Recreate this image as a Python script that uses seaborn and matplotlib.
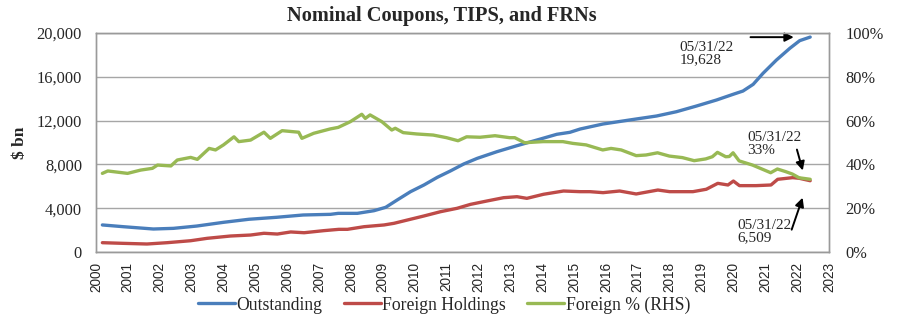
import matplotlib
matplotlib.use("Agg")
import matplotlib.pyplot as plt
import seaborn as sns
import pandas as pd
import numpy as np

# ---- data ----
out_years = [2000.2, 2000.86, 2001.8, 2002.43, 2003.16, 2004.0, 2004.8, 2005.67, 2006.5,
             2007.36, 2007.6, 2008.2, 2008.72, 2009.09, 2009.45, 2009.87, 2010.29, 2010.71,
             2011.12, 2011.54, 2011.96, 2012.58, 2013.21, 2013.84, 2014.46, 2014.87, 2015.19,
             2015.91, 2016.96, 2017.59, 2018.21, 2018.84, 2019.47, 2019.99, 2020.3, 2020.62,
             2020.93, 2021.35, 2021.77, 2022.08, 2022.41]
outstanding = [2470, 2310, 2100, 2160, 2370, 2710, 2990, 3170, 3380,
               3440, 3530, 3530, 3770, 4080, 4750, 5510, 6120, 6820,
               7400, 8040, 8550, 9160, 9710, 10230, 10750, 10930, 11230,
               11690, 12150, 12420, 12810, 13330, 13880, 14400, 14700, 15310,
               16320, 17530, 18600, 19300, 19628]

for_years = [2000.2, 2000.86, 2001.6, 2002.23, 2002.97, 2003.49, 2004.22, 2004.85, 2005.27,
             2005.69, 2006.11, 2006.53, 2007.15, 2007.62, 2007.89, 2008.41, 2009.04, 2009.35,
             2009.77, 2010.29, 2010.81, 2011.33, 2011.75, 2012.27, 2012.79, 2013.21, 2013.52,
             2014.04, 2014.67, 2015.19, 2015.5, 2015.91, 2016.43, 2016.95, 2017.63, 2018.0,
             2018.73, 2019.15, 2019.51, 2019.83, 2020.0, 2020.19, 2020.71, 2021.18, 2021.39,
             2021.86, 2022.07, 2022.41]
foreign = [850, 790, 730, 850, 1030, 1250, 1460, 1550, 1710,
           1640, 1830, 1760, 1950, 2070, 2070, 2310, 2470, 2620,
           2920, 3290, 3680, 3990, 4350, 4660, 4960, 5050, 4900,
           5270, 5570, 5510, 5510, 5420, 5570, 5300, 5660, 5510,
           5510, 5730, 6270, 6120, 6480, 6060, 6060, 6120, 6640,
           6790, 6730, 6509]

pct_years = [2000.2, 2000.37, 2000.99, 2001.4, 2001.77, 2001.93, 2002.35, 2002.55, 2002.97,
             2003.18, 2003.55, 2003.75, 2004.0, 2004.33, 2004.48, 2004.85, 2005.27, 2005.47,
             2005.84, 2006.36, 2006.46, 2006.83, 2007.35, 2007.6, 2007.98, 2008.34, 2008.45,
             2008.6, 2008.97, 2009.28, 2009.39, 2009.64, 2010.06, 2010.58, 2011.0, 2011.36,
             2011.63, 2012.05, 2012.52, 2012.98, 2013.14, 2013.45, 2014.03, 2014.65, 2014.96,
             2015.38, 2015.9, 2016.16, 2016.48, 2016.95, 2017.26, 2017.62, 2017.99, 2018.4,
             2018.77, 2019.13, 2019.34, 2019.5, 2019.76, 2019.87, 2019.99, 2020.18, 2020.6,
             2020.91, 2021.17, 2021.38, 2021.64, 2021.85, 2022.06, 2022.41]
foreign_pct = [35.9, 37.0, 35.9, 37.4, 38.2, 39.7, 39.3, 42.0, 43.2,
               42.3, 47.3, 46.6, 48.9, 52.6, 50.4, 51.1, 54.7, 51.9,
               55.4, 54.7, 51.9, 54.2, 56.2, 56.9, 59.5, 62.9, 61.0,
               62.6, 59.5, 55.7, 56.5, 54.5, 53.9, 53.4, 52.2, 50.8,
               52.6, 52.4, 53.1, 52.2, 52.2, 49.9, 50.4, 50.4, 49.6,
               48.9, 46.6, 47.3, 46.6, 44.0, 44.3, 45.3, 43.8, 43.1,
               41.7, 42.5, 43.5, 45.5, 43.5, 43.6, 45.3, 41.6, 39.7,
               37.8, 36.2, 37.9, 36.7, 35.6, 33.9, 33.2]

year_ticks = list(range(2000, 2024))
left_ticks = [0, 4000, 8000, 12000, 16000, 20000]
right_ticks = [0, 20, 40, 60, 80, 100]

title = "Nominal Coupons, TIPS, and FRNs"
labels = ["Outstanding", "Foreign Holdings", "Foreign % (RHS)"]
colors = ["#4A7EBB", "#BE4B48", "#98B954"]

# ---- style ----
sns.set_style("white")
plt.rcParams['font.family'] = ['Liberation Serif', 'DejaVu Serif']

df_out = pd.DataFrame({"year": out_years, "value": outstanding})
df_for = pd.DataFrame({"year": for_years, "value": foreign})
df_pct = pd.DataFrame({"year": pct_years, "value": foreign_pct})

fig = plt.figure(figsize=(9, 3.25), dpi=100)
ax = fig.add_axes([96 / 900, 1 - 252 / 325, (829 - 96) / 900, (252 - 33) / 325])
ax2 = ax.twinx()

sns.lineplot(data=df_out, x="year", y="value", ax=ax, color=colors[0], lw=2.4, label=labels[0], legend=False)
sns.lineplot(data=df_for, x="year", y="value", ax=ax, color=colors[1], lw=2.4, label=labels[1], legend=False)
sns.lineplot(data=df_pct, x="year", y="value", ax=ax2, color=colors[2], lw=2.4, label=labels[2], legend=False)

ax.set_xlim(2000, 2023)
ax.set_ylim(0, 20000)
ax2.set_ylim(0, 100)
ax.set_yticks(left_ticks)
ax.set_yticklabels([f"{v:,}" for v in left_ticks], fontsize=11.8)
ax2.set_yticks(right_ticks)
ax2.set_yticklabels([f"{v}%" for v in right_ticks], fontsize=11.8)
ax.set_xticks(year_ticks)
ax.set_xticklabels([str(y) for y in year_ticks], rotation=90, fontsize=9.8,
                   family=['Liberation Sans', 'DejaVu Sans'])
ax.tick_params(axis='y', length=0, pad=10)
ax.tick_params(axis='x', length=0, pad=7)
ax2.tick_params(axis='both', length=0, pad=12)
ax.set_xlabel("")
ax.set_ylabel("$ bn", fontsize=12.5, fontweight='bold', labelpad=6)
ax2.set_ylabel("")
ax.grid(axis='y', color='#A6A6A6', lw=1)
ax.grid(axis='x', visible=False)
ax2.grid(False)
for a in (ax, ax2):
    for s in a.spines.values():
        s.set_color('#9A9A9A')
        s.set_linewidth(1)

fig.text(442 / 900, 1 - 16 / 325, title, ha='center', va='center', fontsize=14.7, fontweight='bold')

# annotations
ax.annotate("", xy=(2021.98, 19620), xytext=(2020.45, 19620),
            arrowprops=dict(arrowstyle='-|>', color='black', lw=1.4, mutation_scale=13))
ax.text(2018.3, 19300, "05/31/22\n19,628", ha='left', va='top', fontsize=11, linespacing=1.0)

ax2.annotate("", xy=(2022.2, 36.0), xytext=(2021.97, 48.0),
             arrowprops=dict(arrowstyle='-|>', color='black', lw=1.4, mutation_scale=13))
ax.text(2020.43, 11050, "05/31/22\n33%", ha='left', va='top', fontsize=11, linespacing=1.0)

ax.annotate("", xy=(2022.2, 5200), xytext=(2021.8, 1800),
            arrowprops=dict(arrowstyle='-|>', color='black', lw=1.4, mutation_scale=13))
ax.text(2020.12, 3050, "05/31/22\n6,509", ha='left', va='top', fontsize=11, linespacing=1.0)

h1, l1 = ax.get_legend_handles_labels()
h2, l2 = ax2.get_legend_handles_labels()
fig.legend(h1 + h2, l1 + l2, loc='center', bbox_to_anchor=(444 / 900, 1 - 305 / 325),
           ncol=3, frameon=False, fontsize=12.7, handlelength=2.1, handletextpad=0.1,
           columnspacing=1.2)

fig.savefig("out.png", dpi=100)
